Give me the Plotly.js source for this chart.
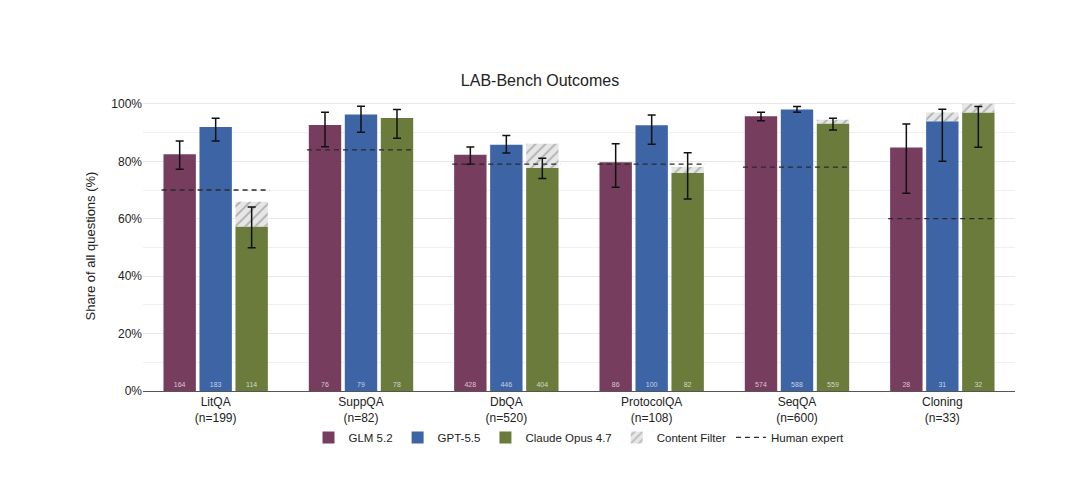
<!DOCTYPE html>
<html><head><meta charset="utf-8">
<script src="https://cdn.plot.ly/plotly-3.0.1.min.js"></script>
<style>html,body{margin:0;padding:0;background:#fff}#chart{width:1080px;height:489px}</style>
</head><body><div id="chart"></div>
<script>
const categories = ["LitQA", "SuppQA", "DbQA", "ProtocolQA", "SeqQA", "Cloning"];
const totals = [199, 82, 520, 108, 600, 33];
const glmCounts = [164, 76, 428, 86, 574, 28];
const gptCounts = [183, 79, 446, 100, 588, 31];
const claudeCounts = [114, 78, 404, 82, 559, 32];
const glmErrHigh = [87.1, 97.1, 85.0, 86.1, 97.1, 93.0];
const glmErrLow = [77.2, 85.1, 79.0, 71.0, 94.1, 68.9];
const gptErrHigh = [95.0, 99.2, 89.0, 96.1, 99.1, 98.1];
const gptErrLow = [87.1, 90.1, 82.9, 85.9, 97.1, 80.0];
const claudeErrHigh = [64.1, 98.0, 81.1, 83.0, 95.0, 99.1];
const claudeErrLow = [49.9, 88.0, 74.0, 66.9, 90.9, 84.9];
const gptFilterTop = [null, null, null, null, null, 97.0];
const claudeFilterTop = [65.9, null, 86.1, 78.0, 94.5, 100.0];
const humanExpert = [70, 84, 79, 79, 78, 60];
const yTicks = [0, 20, 40, 60, 80, 100];

const xs = categories.map((c, i) => i);
const tickText = categories.map((c, i) => c + "<br>(n=" + totals[i] + ")");
const pct = (counts) => counts.map((v, i) => v / totals[i] * 100);
const glm = pct(glmCounts), gpt = pct(gptCounts), claude = pct(claudeCounts);
const hatch = {shape: "/", fgcolor: "#b0b0b0", bgcolor: "#e6e6e6", size: 7, solidity: 0.25};

function barTrace(name, vals, counts, color, group) {
  return {
    type: "bar", name: name, x: xs, y: vals, offsetgroup: group,
    marker: {color: color},
    text: counts.map(String), textposition: "inside", insidetextanchor: "start",
    textfont: {size: 7, color: "rgba(255,255,255,0.7)", family: "Liberation Sans, Arial"},
    textangle: 0, constraintext: "none", hoverinfo: "y"
  };
}
function errTrace(vals, hi, lo, group) {
  return {
    type: "bar", x: xs, y: vals, offsetgroup: group, showlegend: false,
    marker: {color: "rgba(0,0,0,0)"},
    error_y: {type: "data", symmetric: false,
      array: hi.map((h, i) => h - vals[i]), arrayminus: lo.map((l, i) => vals[i] - l),
      color: "#111", thickness: 1.5, width: 4},
    hoverinfo: "skip"
  };
}
function filterTrace(tops, base, group) {
  return {
    type: "bar", name: "Content Filter", x: xs,
    y: tops.map((t, i) => t === null ? null : t - base[i]),
    base: base, offsetgroup: group, showlegend: false, legendgroup: "cf",
    marker: {color: "#e6e6e6", line: {width: 0}, pattern: hatch},
    hoverinfo: "skip"
  };
}
// human expert dashed lines spanning each group
const hx = [], hy = [];
xs.forEach((x, i) => { hx.push(x - 0.372, x + 0.372, null); hy.push(humanExpert[i], humanExpert[i], null); });

const traces = [
  barTrace("GLM 5.2", glm, glmCounts, "#773d5e", "a"),
  barTrace("GPT-5.5", gpt, gptCounts, "#3d65a5", "b"),
  barTrace("Claude Opus 4.7", claude, claudeCounts, "#6b7b3c", "c"),
  filterTrace(gptFilterTop, gpt, "b"),
  filterTrace(claudeFilterTop, claude, "c"),
  {type: "bar", name: "Content Filter", x: [null], y: [null], legendgroup: "cf", showlegend: true,
   offsetgroup: "a", marker: {color: "#e6e6e6", pattern: hatch}},
  {type: "scatter", mode: "lines", name: "Human expert", x: hx, y: hy,
   line: {color: "#2a2a2a", dash: "5px,4px", width: 1.3}, connectgaps: false, hoverinfo: "skip"},
  errTrace(glm, glmErrHigh, glmErrLow, "a"),
  errTrace(gpt, gptErrHigh, gptErrLow, "b"),
  errTrace(claude, claudeErrHigh, claudeErrLow, "c")
];

const layout = {
  width: 1080, height: 489,
  paper_bgcolor: "#fff", plot_bgcolor: "#fff",
  font: {family: "Liberation Sans, Arial, sans-serif", color: "#222", size: 12},
  title: {text: "LAB-Bench Outcomes", x: 0.5, xanchor: "center", y: 0.835, yanchor: "middle",
    font: {size: 16, color: "#222"}},
  margin: {l: 143, r: 65, t: 101, b: 98},
  barmode: "group", bargap: 0.257, bargroupgap: 0.1,
  xaxis: {range: [-0.5, 5.5], tickvals: xs, ticktext: tickText, showgrid: false,
    zeroline: false, showline: true, linecolor: "#555", linewidth: 1, ticks: "",
    tickfont: {size: 12, color: "#222"}, fixedrange: true},
  yaxis: {range: [0, 101], tickvals: yTicks, ticktext: yTicks.map(v => v + "%"),
    showgrid: true, gridcolor: "#e8e8e8", gridwidth: 1, zeroline: false,
    minor: {dtick: 10, showgrid: true, gridcolor: "#f0f0f0", gridwidth: 1},
    ticks: "", ticklen: 0, tickfont: {size: 12, color: "#222"},
    title: {text: "Share of all questions (%)", font: {size: 13, color: "#222"}, standoff: 12}},
  legend: {orientation: "h", x: 0.5, xanchor: "center", y: -0.11, yanchor: "top",
    bgcolor: "rgba(0,0,0,0)",
    font: {size: 11.5, color: "#222"}, traceorder: "normal", itemwidth: 30},
  showlegend: true
};
Plotly.newPlot("chart", traces, layout, {displayModeBar: false, staticPlot: true});
</script></body></html>
